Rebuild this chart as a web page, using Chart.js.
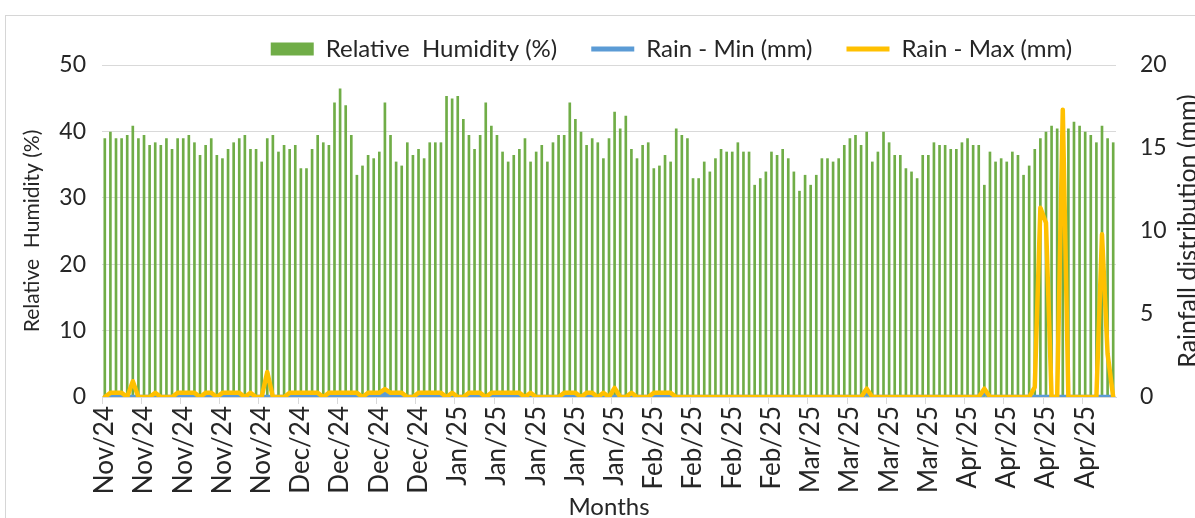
<!DOCTYPE html>
<html>
<head>
<meta charset="utf-8">
<script src="https://cdn.jsdelivr.net/npm/chart.js@4.4.1/dist/chart.umd.min.js"></script>
<style>
  html, body { margin: 0; padding: 0; background: #fff; overflow: hidden; }
  #wrap { position: relative; width: 1195px; height: 530px; }
  #frame { position: absolute; left: 5px; top: 15px; width: 1300px; height: 700px;
           border: 1px solid #d6d6d6; pointer-events: none; }
</style>
</head>
<body>
<div id="wrap">
  <canvas id="rhChart"></canvas>
  <div id="frame"></div>
</div>
<script>
// months shown on the axis and days in each (one bar per day)
const months = ['Nov/24', 'Dec/24', 'Jan/25', 'Feb/25', 'Mar/25', 'Apr/25'];
const daysInMonth = [30, 31, 31, 28, 31, 30];

// relative humidity (%), one value per day
const humidity = [
  38.9, 39.9, 38.9, 38.9, 39.4, 40.8, 38.9, 39.4, 37.9, 38.3, 37.9, 38.9, 37.3, 38.9, 38.9, 39.4, 38.3, 36.4, 37.9, 38.9,
  36.4, 35.9, 37.3, 38.3, 38.9, 39.4, 37.3, 37.3, 35.4, 38.9, 39.4, 36.9, 37.9, 37.3, 37.9,
  34.4, 34.4, 37.3, 39.4, 38.3, 37.9, 44.3, 46.4, 43.9, 39.4, 33.4, 34.8, 36.4, 35.9, 36.9, 44.3, 39.4, 35.4, 34.8, 38.3,
  36.4, 37.3, 35.9, 38.3, 38.3, 38.3, 45.3, 44.9, 45.3, 41.8, 39.4, 37.3, 39.4, 44.3,
  40.8, 39.4, 36.9, 35.4, 36.4, 37.3, 38.9, 35.4, 36.9, 37.9, 35.4, 38.3, 39.4, 39.4, 44.3, 41.8, 39.9, 37.9, 38.9, 38.3,
  35.9, 38.9, 42.9, 40.4, 42.3, 37.3, 35.9, 37.9, 38.3, 34.4, 34.8, 36.4, 35.4, 40.4,
  39.4, 38.9, 32.9, 32.9, 35.4, 33.9, 35.9, 37.3, 36.9, 36.9, 38.3, 36.9, 36.9, 31.9, 32.9, 33.9, 36.9, 36.4, 37.3, 35.9,
  33.9, 31.0, 33.4, 31.9, 33.4, 35.9, 35.9, 35.4, 35.9, 37.9, 38.9, 39.4, 37.9, 39.9,
  35.4, 36.9, 39.9, 38.3, 36.4, 36.4, 34.4, 33.9, 32.9, 36.4, 36.4, 38.3, 37.9, 37.9, 37.3, 37.3, 38.3, 38.9, 37.9, 37.9,
  31.9, 36.9, 35.4, 35.9, 35.4, 36.9, 36.4, 33.4, 34.8, 37.3, 38.9, 39.9, 40.8, 40.4,
  41.4, 40.4, 41.4, 40.8, 39.9, 39.4, 38.3, 40.8, 38.9, 38.3
];

// daily minimum rain (mm), 20 days per row
const rainMin = [
  0, 0, 0, 0, 0, 0, 0, 0, 0, 0, 0, 0, 0, 0, 0, 0, 0, 0, 0, 0,
  0, 0, 0, 0, 0, 0, 0, 0, 0, 0, 0, 0, 0, 0, 0, 0, 0, 0, 0, 0,
  0, 0, 0, 0, 0, 0, 0, 0, 0, 0, 0.2, 0, 0, 0, 0, 0, 0, 0, 0, 0,
  0, 0, 0, 0, 0, 0, 0, 0, 0, 0, 0, 0, 0, 0, 0, 0, 0, 0, 0, 0,
  0, 0, 0, 0, 0, 0, 0, 0, 0, 0, 0, 0, 0, 0, 0, 0, 0, 0, 0, 0,
  0, 0, 0, 0, 0, 0, 0, 0, 0, 0, 0, 0, 0, 0, 0, 0, 0, 0, 0, 0,
  0, 0, 0, 0, 0, 0, 0, 0, 0, 0, 0, 0, 0, 0, 0, 0, 0.25, 0, 0, 0,
  0, 0, 0, 0, 0, 0, 0, 0, 0, 0, 0, 0, 0, 0, 0, 0, 0, 0.25, 0, 0,
  0, 0, 0, 0, 0, 0, 0, 0, 0, 0, 0, 0, 0, 0, 0, 0, 0, 0, 0, 0,
  0
];

// daily maximum rain (mm), 20 days per row
const rainMax = [
  0, 0.25, 0.25, 0.25, 0, 0.95, 0, 0, 0, 0.25, 0, 0, 0, 0.25, 0.25, 0.25, 0.25, 0, 0.25, 0.25,
  0, 0.25, 0.25, 0.25, 0.25, 0, 0.25, 0, 0, 1.5, 0, 0, 0, 0.25, 0.25, 0.25, 0.25, 0.25, 0.25, 0,
  0.25, 0.25, 0.25, 0.25, 0.25, 0.25, 0, 0.25, 0.25, 0.25, 0.48, 0.25, 0.25, 0.25, 0, 0, 0.25, 0.25, 0.25, 0.25,
  0.25, 0, 0.25, 0, 0, 0.25, 0.25, 0.25, 0, 0.25, 0.25, 0.25, 0.25, 0.25, 0.25, 0, 0.25, 0, 0, 0,
  0, 0, 0.25, 0.25, 0.25, 0, 0.25, 0.25, 0, 0.25, 0, 0.55, 0, 0, 0.25, 0, 0, 0, 0.25, 0.25,
  0.25, 0.25, 0, 0, 0, 0, 0, 0, 0, 0, 0, 0, 0, 0, 0, 0, 0, 0, 0, 0,
  0, 0, 0, 0, 0, 0, 0, 0, 0, 0, 0, 0, 0, 0, 0, 0, 0.5, 0, 0, 0,
  0, 0, 0, 0, 0, 0, 0, 0, 0, 0, 0, 0, 0, 0, 0, 0, 0, 0.5, 0, 0,
  0, 0, 0, 0, 0, 0, 0.6, 11.4, 10.5, 0, 0, 17.3, 0, 0, 0, 0, 0, 0, 9.8, 2.6,
  0
];

const days = [];
months.forEach((m, i) => {
  for (let d = 0; d < daysInMonth[i]; d++) days.push(m);
});

const textColor = '#262626';
const gridColor = '#d9d9d9';
const font = 'Lato';

// right-hand title reads bottom-to-top like the left one
const rightTitle = {
  id: 'rightTitle',
  afterDraw(chart) {
    const { ctx, chartArea } = chart;
    const x = chart.scales.y1.right - 7;
    ctx.save();
    ctx.translate(x, (chartArea.top + chartArea.bottom) / 2);
    ctx.rotate(-Math.PI / 2);
    ctx.font = '25px ' + font;
    ctx.fillStyle = textColor;
    ctx.textAlign = 'center';
    ctx.textBaseline = 'middle';
    ctx.fillText('Rainfall distribution (mm)', 0, 0);
    ctx.restore();
  }
};

// fixed legend height and a nudge to the right
const legendPlace = {
  id: 'legendPlace',
  beforeInit(chart) {
    const fit = chart.legend.fit;
    chart.legend.fit = function () {
      fit.call(this);
      this.height = 62;
    };
  },
  afterLayout(chart) {
    chart.legend.left += 74;
    chart.legend.right += 74;
  }
};

const ctx = document.getElementById('rhChart').getContext('2d');

window.rhChart = new Chart(ctx, {
  type: 'bar',
  data: {
    labels: days,
    datasets: [
      {
        type: 'bar',
        label: 'Relative  Humidity (%)',
        data: humidity,
        backgroundColor: '#70AD47',
        barThickness: 2,
        yAxisID: 'y',
        order: 3
      },
      {
        type: 'line',
        label: 'Rain - Min (mm)',
        data: rainMin,
        borderColor: '#5B9BD5',
        backgroundColor: '#5B9BD5',
        borderWidth: 4.5,
        pointRadius: 0,
        tension: 0,
        borderJoinStyle: 'round',
        borderCapStyle: 'round',
        yAxisID: 'y1',
        order: 2
      },
      {
        type: 'line',
        label: 'Rain - Max (mm)',
        data: rainMax,
        borderColor: '#FFC000',
        backgroundColor: '#FFC000',
        borderWidth: 4.5,
        pointRadius: 0,
        tension: 0,
        borderJoinStyle: 'round',
        borderCapStyle: 'round',
        yAxisID: 'y1',
        order: 1
      }
    ]
  },
  options: {
    responsive: true,
    maintainAspectRatio: false,
    animation: false,
    devicePixelRatio: 1,
    layout: { padding: { top: 3, left: 0, right: 0, bottom: 0 } },
    plugins: {
      tooltip: { enabled: false },
      legend: {
        display: true,
        position: 'top',
        labels: {
          usePointStyle: true,
          pointStyleWidth: 43,
          boxHeight: 13,
          padding: 34,
          color: textColor,
          font: { family: font, size: 24 },
          sort: (a, b) => a.datasetIndex - b.datasetIndex,
          generateLabels(chart) {
            const items = Chart.defaults.plugins.legend.labels.generateLabels(chart);
            items.forEach(it => {
              const ds = chart.data.datasets[it.datasetIndex];
              if (ds.type === 'bar') {
                it.pointStyle = 'rect';
                it.lineWidth = 0;
              } else {
                it.pointStyle = 'line';
                it.lineWidth = 5;
                it.strokeStyle = ds.borderColor;
              }
            });
            return items;
          }
        }
      }
    },
    scales: {
      x: {
        offset: true,
        afterFit: s => { s.height = 133; },
        grid: {
          offset: true,
          drawOnChartArea: false,
          tickLength: 7,
          color: c => (c.index % 7 === 0 ? gridColor : 'rgba(0,0,0,0)')
        },
        border: { display: true, color: gridColor },
        ticks: {
          autoSkip: false,
          minRotation: 90,
          maxRotation: 90,
          padding: 2,
          color: textColor,
          font: { family: font, size: 26 },
          callback: function (v, i) {
            return i % 7 === 0 ? this.getLabelForValue(v) : '';
          }
        },
        title: {
          display: true,
          text: 'Months',
          color: textColor,
          font: { family: font, size: 24 },
          padding: { top: 0, bottom: 8 }
        }
      },
      y: {
        position: 'left',
        min: 0,
        max: 50,
        afterFit: s => { s.width = 102; },
        ticks: { stepSize: 10, padding: 16, color: textColor, font: { family: font, size: 23 } },
        grid: { color: gridColor, drawTicks: false },
        border: { display: false },
        title: {
          display: true,
          text: 'Relative  Humidity (%)',
          color: textColor,
          font: { family: font, size: 21 },
          padding: { top: 20, bottom: 0 }
        }
      },
      y1: {
        position: 'right',
        min: 0,
        max: 20,
        afterFit: s => { s.width = 79; },
        ticks: { stepSize: 5, padding: 24, color: textColor, font: { family: font, size: 23 } },
        grid: { drawOnChartArea: false, drawTicks: false },
        border: { display: false }
      }
    }
  },
  plugins: [legendPlace, rightTitle]
});
</script>
</body>
</html>
